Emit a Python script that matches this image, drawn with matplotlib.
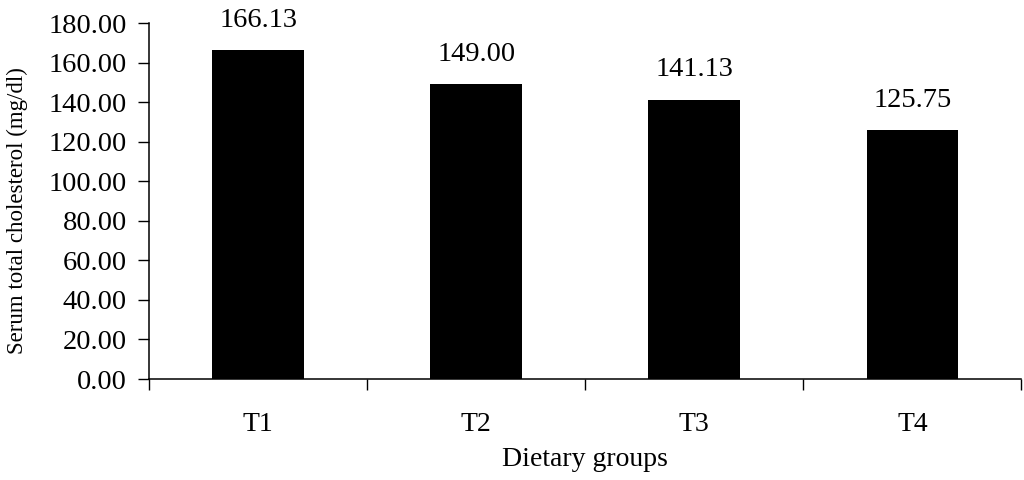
import matplotlib
matplotlib.use("Agg")
import matplotlib.pyplot as plt
import numpy as np

categories = ["T1", "T2", "T3", "T4"]
values = [166.13, 149.00, 141.13, 125.75]
yticks = [0, 20, 40, 60, 80, 100, 120, 140, 160, 180]

plt.rcParams['font.family'] = ['Liberation Serif', 'DejaVu Serif']

fig = plt.figure(figsize=(10.24, 4.8), dpi=100)
ax = fig.add_axes([0.1455, 0.2104, 0.852, 0.7416])

x = np.arange(len(categories))
bars = ax.bar(x, values, width=0.42, color="black")
for xi, v in zip(x, values):
    ax.text(xi, v + 9, f"{v:.2f}", ha="center", va="bottom", fontsize=20.5)

ax.set_xlim(-0.5, len(categories) - 0.5)
ax.set_ylim(0, 180)
ax.set_yticks(yticks)
ax.set_yticklabels([f"{t:.2f}" for t in yticks], fontsize=20.5)
ax.set_xticks(x)
ax.set_xticklabels(categories, fontsize=20)
ax.set_xticks(np.arange(-0.5, len(categories)), minor=True)
ax.tick_params(axis="x", which="major", length=0, pad=24)
ax.tick_params(axis="x", which="minor", length=8, width=1, direction="out")
ax.tick_params(axis="y", length=8, width=1, direction="out", pad=8)

for s in ["top", "right"]:
    ax.spines[s].set_visible(False)
for s in ["left", "bottom"]:
    ax.spines[s].set_linewidth(1.1)

ax.set_ylabel("Serum total cholesterol (mg/dl)", fontsize=16.5)
ax.yaxis.set_label_coords(-0.139, 0.472)
ax.set_xlabel("Dietary groups", fontsize=20)
ax.xaxis.set_label_coords(0.5, -0.19)

fig.savefig("out.png", dpi=100)
